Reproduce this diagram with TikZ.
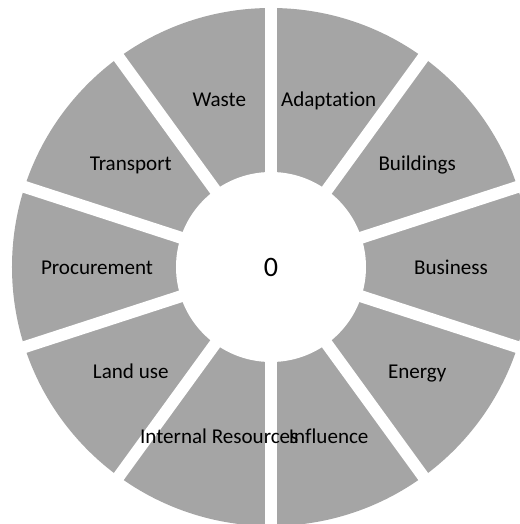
\documentclass[tikz,border=0pt]{standalone}
\usepackage{fontspec}
\setmainfont{Carlito}[Ligatures=NoCommon]
\usepackage{tikz}
\usetikzlibrary{positioning}

\definecolor{ringgray}{HTML}{A5A5A5}

\begin{document}
\begin{tikzpicture}[
  x=0.02cm,y=0.02cm,
  ring/.style={fill=ringgray,draw=none},
  gap/.style={draw=white,line width=0.24cm},
  hub/.style={fill=white,draw=none},
  seglabel/.style={font=\fontsize{12}{14}\selectfont,inner sep=0pt,
    text height=1.6ex,text depth=0.45ex,xshift=0.06cm,yshift=-0.06cm},
  hublabel/.style={font=\fontsize{16}{18}\selectfont,inner sep=0pt},
]
  \useasboundingbox (-271,-257) rectangle (249,267);

  % Ring
  \fill[ring] (0,0) circle (259);

  % Gaps between segments
  \draw[gap] (90:270) -- (270:270);
  \draw[gap] (54:270) -- (234:270);
  \draw[gap] (18:270) -- (198:270);
  \draw[gap] (-18:270) -- (162:270);
  \draw[gap] (-54:270) -- (126:270);

  % Centre
  \fill[hub] (0,0) circle (95);
  \node[hublabel] (centre) at (0,0) {0};

  % Segment labels
  \node[seglabel] (adaptation) at (72:177) {Adaptation};
  \node[seglabel] (buildings) at (36:177) {Buildings};
  \node[seglabel] (business) at (0:177) {Business};
  \node[seglabel] (energy) at (-36:177) {Energy};
  \node[seglabel] (influence) at (-72:177) {Influence};
  \node[seglabel] (internal) at (-108:177) {Internal Resources};
  \node[seglabel] (landuse) at (-144:177) {Land use};
  \node[seglabel] (procurement) at (180:177) {Procurement};
  \node[seglabel] (transport) at (144:177) {Transport};
  \node[seglabel] (waste) at (108:177) {Waste};
\end{tikzpicture}
\end{document}
